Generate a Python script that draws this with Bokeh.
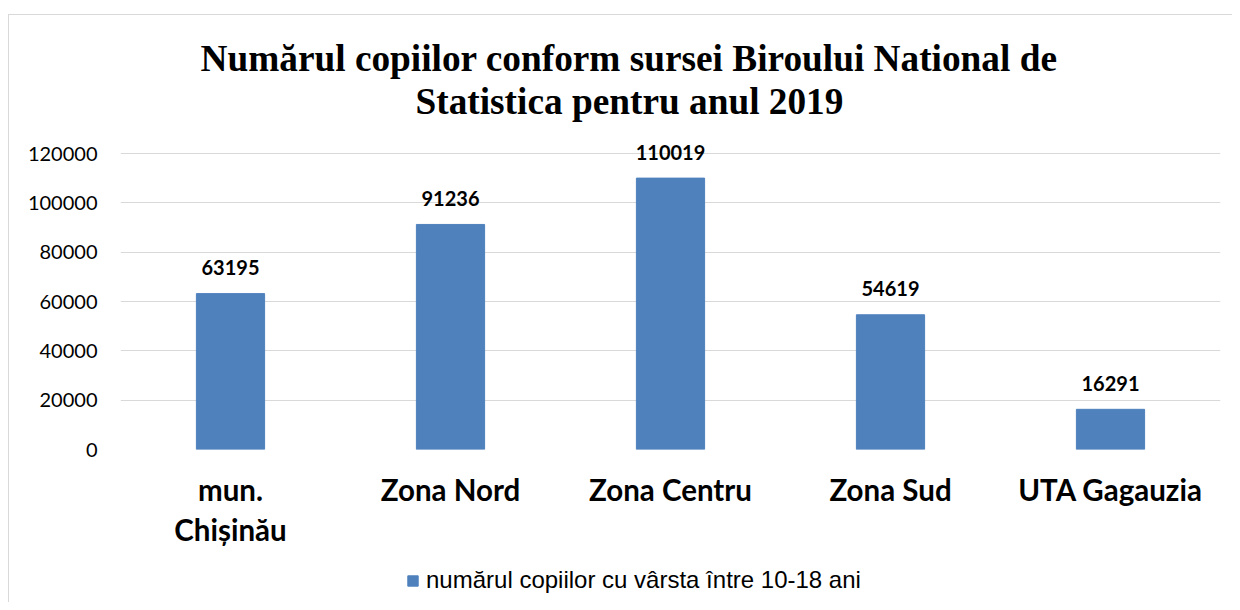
from bokeh.plotting import figure
from bokeh.layouts import column
from bokeh.models import (Range1d, FactorRange, FixedTicker, Title, ColumnDataSource,
                          NumeralTickFormatter)
from bokeh.embed import file_html
from bokeh.resources import INLINE
from bokeh.core.properties import value

categories = ["mun.\nChișinău", "Zona Nord", "Zona Centru", "Zona Sud", "UTA Gagauzia"]
counts = [63195, 91236, 110019, 54619, 16291]
y_ticks = [0, 20000, 40000, 60000, 80000, 100000, 120000]
title_lines = ["Numărul copiilor conform sursei Biroului National de",
               "Statistica pentru anul 2019"]
series_name = "numărul copiilor cu vârsta între 10-18 ani"

BAR_COLOR = "#4F81BD"
GRID_COLOR = "#d9d9d9"

src = ColumnDataSource(dict(cat=categories, val=counts, lbl=[str(v) for v in counts]))

# frame: 328 px tall, top tick sits 296 px above the baseline
y_end = y_ticks[-1] * 328 / 296

p = figure(x_range=FactorRange(*categories), y_range=Range1d(0, y_end),
           width=1223, height=545, output_backend="svg", toolbar_location=None,
           min_border_left=111, min_border_right=12, min_border_top=106,
           min_border_bottom=111)

p.vbar(x="cat", top="val", width=0.31, source=src, color=BAR_COLOR)

p.text(x="cat", y="val", text="lbl", source=src, text_align="center",
       text_baseline="alphabetic", y_offset=-26, text_font=value("Lato"),
       text_font_style="bold", text_font_size="20px", text_color="#000000")

p.outline_line_color = None
p.xgrid.grid_line_color = None
p.ygrid.grid_line_color = GRID_COLOR
p.ygrid.grid_line_width = 1
p.yaxis.ticker = FixedTicker(ticks=y_ticks)
p.yaxis.formatter = NumeralTickFormatter(format="0")
p.yaxis.axis_line_color = None
p.yaxis.major_tick_line_color = None
p.yaxis.minor_tick_line_color = None
p.yaxis.major_tick_out = 0
p.yaxis.major_label_standoff = 23
p.yaxis.major_label_text_font = "Lato"
p.yaxis.major_label_text_font_size = "20px"
p.yaxis.major_label_text_color = "#000000"

p.xaxis.axis_line_color = None
p.xaxis.major_tick_line_color = None
p.xaxis.major_tick_out = 0
p.xaxis.major_label_standoff = 22
p.xaxis.major_label_text_font = "Lato"
p.xaxis.major_label_text_font_style = "bold"
p.xaxis.major_label_text_font_size = "29.5px"
p.xaxis.major_label_text_line_height = 1.15
p.xaxis.major_label_text_color = "#000000"

# two title lines, closest to the frame added first
for txt, off in [(title_lines[1], 295), (title_lines[0], 80)]:
    p.add_layout(Title(text=txt, align="left", offset=off, standoff=0,
                       text_font="Liberation Serif", text_font_style="bold",
                       text_font_size="37.3px", text_color="#000000"), "above")

# legend strip below the chart (its renderer shares the data but is hidden)
lf = figure(width=1223, height=42, output_backend="svg", toolbar_location=None,
            x_axis_type=None, y_axis_type=None, min_border=0,
            x_range=FactorRange(*categories), y_range=Range1d(0, y_end))
lf.outline_line_color = None
lf.xgrid.grid_line_color = None
lf.ygrid.grid_line_color = None
r = lf.vbar(x="cat", top="val", width=0.31, source=src, color=BAR_COLOR,
            legend_label=series_name)
r.visible = False

lg = lf.legend[0]
lg.location = (286, 8)
lg.orientation = "horizontal"
lg.padding = 0
lg.margin = 0
lg.spacing = 0
lg.glyph_width = 13
lg.glyph_height = 13
lg.label_standoff = 7
lg.border_line_color = None
lg.background_fill_alpha = 0
lg.inactive_fill_alpha = 0
lg.label_text_font = "Liberation Sans"
lg.label_text_font_size = "24px"
lg.label_text_color = "#000000"

layout = column(p, lf, spacing=0)
layout.styles = {"border-top": f"1px solid {GRID_COLOR}", "border-left": f"1px solid {GRID_COLOR}",
                 "margin-top": "14px", "margin-left": "8px"}

open("out.html", "w").write(file_html(layout, INLINE))
